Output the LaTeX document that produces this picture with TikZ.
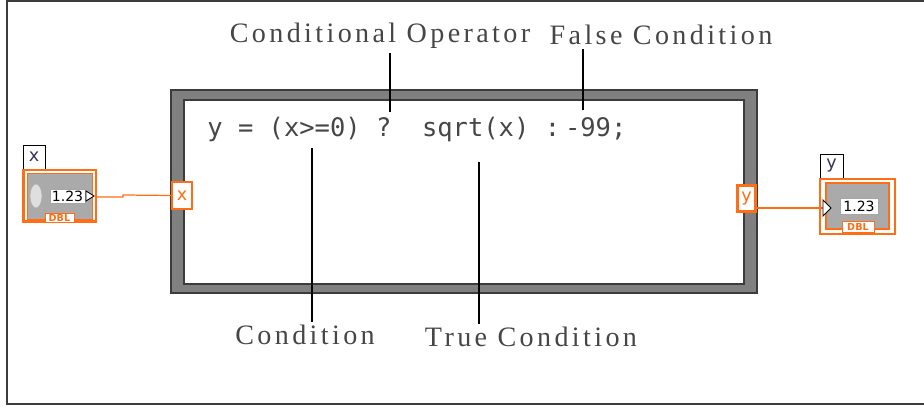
\documentclass[tikz,border=0pt]{standalone}
\usepackage{fontspec}
\setmainfont{Liberation Serif}
\newfontfamily\codefont{DejaVu Sans Mono}
\newfontfamily\panelfont{DejaVu Sans}
\newfontfamily\labelfont[LetterSpace=12]{Liberation Serif}
\usepackage{xcolor}
\usetikzlibrary{shapes.geometric}
\definecolor{lvorange}{RGB}{255,110,20}
\definecolor{framegray}{RGB}{128,128,128}
\definecolor{edgegray}{RGB}{60,60,60}
\definecolor{textgray}{RGB}{70,70,70}
\definecolor{panelgray}{RGB}{170,170,170}

\tikzset{
  lbl/.style={text=textgray, inner sep=2pt, font=\labelfont\fontsize{16}{19}\selectfont},
  lead/.style={line width=0.9pt},
  term/.style={draw=lvorange, fill=white, inner sep=0pt, text=lvorange, font=\panelfont\fontsize{10}{10}\selectfont},
  namebox/.style={draw=black, fill=white, inner sep=0pt, text={rgb,255:red,60;green,50;blue,90}, font=\panelfont\fontsize{10}{10}\selectfont},
  numbox/.style={draw=gray!70, fill=white, inner sep=0pt, font=\panelfont\fontsize{8}{8}\selectfont},
  dbl/.style={draw=lvorange, fill=white, inner sep=0pt, text=lvorange, font=\panelfont\bfseries\fontsize{5.5}{5.5}\selectfont},
  wire/.style={draw=lvorange, line width=0.7pt}
}

\begin{document}
\begin{tikzpicture}[x=0.02cm, y=-0.02cm]
  \useasboundingbox (0,0) rectangle (924,408);
  % cornice esterna
  \draw[edgegray, line width=1.3pt] (924,1) -- (7,1) -- (7,404) -- (924,404);
  % nodo formula
  \draw[edgegray, fill=framegray, line width=0.6pt] (171,90) rectangle (757,293);
  \draw[edgegray, fill=white, line width=1.6pt] (184,100) rectangle (744,284);
  \node[anchor=base west, inner sep=0pt, text=textgray, font=\codefont\fontsize{14.5}{16}\selectfont]
    (code) at (207,137) {y = (x>=0) ?~~sqrt(x) :\hspace{2.8pt}-99;};
  % etichette
  \node[lbl, anchor=base] (condop) at (380,43) {Conditional Operator};
  \node[lbl, anchor=base] (falsec) at (661,45) {False Condition};
  \node[lbl, anchor=base] (cond) at (305,345) {Condition};
  \node[lbl, anchor=base] (truec) at (531,347) {True Condition};
  \coordinate (qmark) at (390,112);
  \coordinate (minus) at (583,110);
  \coordinate (ge) at (312,148);
  \coordinate (sq) at (479,162);
  \draw[lead] (condop.south -| qmark) -- (qmark);
  \draw[lead] (falsec.south -| minus) -- (minus);
  \draw[lead] (cond.north -| ge) -- (ge);
  \draw[lead] (truec.north -| sq) -- (sq);
  % controllo x
  \node[namebox, minimum width=0.44cm, minimum height=0.48cm] (xname) at (34,157) {x};
  \node[draw=lvorange, fill=white, line width=1.7pt, minimum width=1.46cm, minimum height=1.04cm] (xctl) at (59.5,196) {};
  \node[draw=lvorange, fill=panelgray, line width=0.5pt, minimum width=1.3cm, minimum height=0.92cm] (xin) at (59.5,196) {};
  \node[ellipse, draw=gray!60, fill=gray!25, minimum width=0.24cm, minimum height=0.48cm, inner sep=0pt] (spin) at (36,196) {};
  \node[numbox, minimum width=0.7cm, minimum height=0.28cm] (xnum) at (67.5,196) {1.23};
  \draw[fill=white, line width=0.5pt] (86,191) -- (94,196) -- (86,201) -- cycle;
  \coordinate (xout) at (95,197);
  \node[dbl, minimum width=0.58cm, minimum height=0.18cm] (xdbl) at (59.5,217.5) {DBL};
  \node[term, line width=0.8pt, minimum width=0.4cm, minimum height=0.54cm] (xterm) at (182,195.5) {x};
  \draw[wire] (xout) -- (123,197) -- (123,195) -- (xterm.west);
  % indicatore y
  \node[term, line width=1.7pt, minimum width=0.36cm, minimum height=0.52cm] (yterm) at (746.5,198.5) {y};
  \node[namebox, minimum width=0.46cm, minimum height=0.48cm] (yname) at (831.5,166) {y};
  \node[draw=lvorange, fill=white, line width=0.8pt, minimum width=1.5cm, minimum height=1.1cm] (yind) at (857.5,206.5) {};
  \node[draw=lvorange, fill=panelgray, line width=0.8pt, minimum width=1.26cm, minimum height=0.92cm] (yin) at (857.5,206) {};
  \coordinate (yin-tip) at (823,208);
  \draw[wire] (yterm.east |- yin-tip) -- (yin-tip);
  \draw[fill=white, line width=0.5pt] (823,200) -- (831,208) -- (823,216) -- cycle;
  \node[numbox, minimum width=0.76cm, minimum height=0.32cm] (ynum) at (859,206) {1.23};
  \node[dbl, minimum width=0.64cm, minimum height=0.22cm] (ydbl) at (858,226.5) {DBL};
\end{tikzpicture}
\end{document}
